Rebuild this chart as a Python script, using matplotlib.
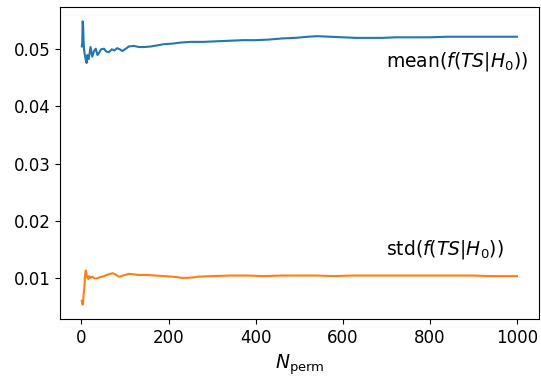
import matplotlib
matplotlib.use("Agg")
import matplotlib.pyplot as plt

plt.rcParams['font.size'] = 12

# running mean of f(TS|H0) vs number of permutations
n_mean = [1, 2, 3, 4, 5, 6, 8, 10, 12, 14, 17, 21, 25, 29, 33, 37, 40, 45, 52, 57,
          63, 70, 76, 82, 88, 94, 100, 109, 120, 132, 145, 160, 175, 190, 210, 230,
          251, 280, 310, 340, 370, 400, 430, 460, 490, 520, 541, 570, 600, 630, 660,
          692, 720, 760, 800, 840, 880, 920, 960, 1000]
mean_vals = [0.0505, 0.0512, 0.0549, 0.0540, 0.0515, 0.0500, 0.0490, 0.0482, 0.0476, 0.0490,
             0.0483, 0.0504, 0.0487, 0.0497, 0.0501, 0.0490, 0.0493, 0.0500, 0.0501, 0.0496,
             0.0495, 0.0500, 0.0498, 0.0502, 0.0500, 0.0497, 0.0500, 0.0505, 0.0506, 0.0504,
             0.0504, 0.0505, 0.0507, 0.0509, 0.0510, 0.0512, 0.0513, 0.0513, 0.0514, 0.0515,
             0.0516, 0.0516, 0.0517, 0.0519, 0.0520, 0.0522, 0.0523, 0.0522, 0.0521, 0.0520,
             0.0520, 0.0520, 0.0521, 0.0521, 0.0521, 0.0522, 0.0522, 0.0522, 0.0522, 0.0522]

# running std
n_std = [1, 2, 3, 4, 5, 6, 7, 8, 9, 10, 11, 12, 14, 16, 18, 21, 25, 30, 36, 42, 47,
         52, 58, 66, 72, 78, 86, 92, 100, 109, 120, 132, 150, 170, 190, 210, 230, 244,
         260, 267, 300, 342, 380, 420, 460, 500, 540, 580, 620, 660, 700, 740, 780, 820,
         860, 900, 940, 1000]
std_vals = [0.0060, 0.0055, 0.0053, 0.0058, 0.0070, 0.0076, 0.0085, 0.0100, 0.0108, 0.0113,
            0.0111, 0.0104, 0.0100, 0.0098, 0.0103, 0.0100, 0.0102, 0.0099, 0.0099, 0.0101,
            0.0102, 0.0103, 0.0105, 0.0107, 0.0108, 0.0106, 0.0102, 0.0103, 0.0105, 0.0107,
            0.0106, 0.0105, 0.0105, 0.0104, 0.0103, 0.0102, 0.0100, 0.0100, 0.0101, 0.0102,
            0.0103, 0.0104, 0.0104, 0.0103, 0.0104, 0.0104, 0.0104, 0.0103, 0.0104, 0.0104,
            0.0104, 0.0104, 0.0104, 0.0104, 0.0104, 0.0104, 0.0103, 0.0103]

fig = plt.figure(figsize=(5.41, 3.76), dpi=100)
ax = fig.add_axes([0.111, 0.152, 0.885, 0.829])

ax.plot(n_mean, mean_vals)
ax.plot(n_std, std_vals)

ax.text(700, 0.047, r'mean($f(TS|H_0)$)', fontsize=13.5)
ax.text(700, 0.014, r'std($f(TS|H_0)$)', fontsize=13.5)

ax.set_xlabel(r'$N_{\rm perm}$', fontsize=13.5)
ax.set_xticks([0, 200, 400, 600, 800, 1000])
ax.set_yticks([0.01, 0.02, 0.03, 0.04, 0.05])

fig.savefig('out.png', dpi=100)
